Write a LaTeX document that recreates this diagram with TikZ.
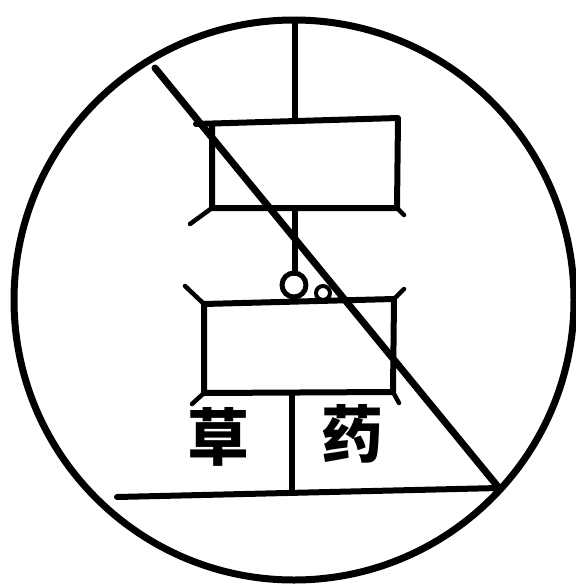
\documentclass[tikz,border=0pt]{standalone}
\usepackage{fontspec}
\newfontfamily\cjk{Noto Sans CJK SC}[BoldFont={Noto Sans CJK SC Black}]
\begin{document}
\begin{tikzpicture}[x=1pt,y=-1pt,line cap=round,line join=round,
  ink/.style={draw=black,line width=6pt},
  thin ink/.style={draw=black,line width=4.5pt},
  glyph/.style={font=\cjk\bfseries\fontsize{62}{62}\selectfont,inner sep=0pt}]
\useasboundingbox (0,0) rectangle (576,587);
% outer circle
\coordinate (C) at (294,300);
\draw[ink,line width=7pt] (C) circle[radius=280];
% key points
\coordinate (top) at (295,21);
\coordinate (d1) at (155,68);
\coordinate (d2) at (499,488);
% top vertical line
\draw[ink] (top) -- (295,121);
% top rectangle
\draw[ink] (196,124) -- (398,118) -- (397,208) -- (212,208) -- (212,126);
\draw[thin ink] (212,208) -- (190,224);
\draw[thin ink] (397,208) -- (404,215);
% stem down to small circle
\draw[ink] (295,208) -- (295,273);
% small circles
\coordinate (c1) at (294,285);
\coordinate (c2) at (323,293);
\draw[ink,line width=5pt] (c1) circle[radius=12];
\draw[ink,line width=4pt] (c2) circle[radius=7];
% middle rectangle
\draw[ink] (204,304) -- (394,299) -- (393,392) -- (204,393) -- cycle;
\draw[thin ink] (204,304) -- (185,286);
\draw[thin ink] (394,299) -- (404,289);
\draw[thin ink] (204,393) -- (192,404);
\draw[thin ink] (393,392) -- (399,403);
% lower divider and base line
\draw[ink] (292,393) -- (292,492);
\draw[ink] (117,497) -- (d2);
% diagonal
\draw[ink,line width=7pt] (d1) -- (d2);
% characters
\node[glyph] (L) at (218,437) {草};
\node[glyph] (R) at (352,434) {药};
\end{tikzpicture}
\end{document}
